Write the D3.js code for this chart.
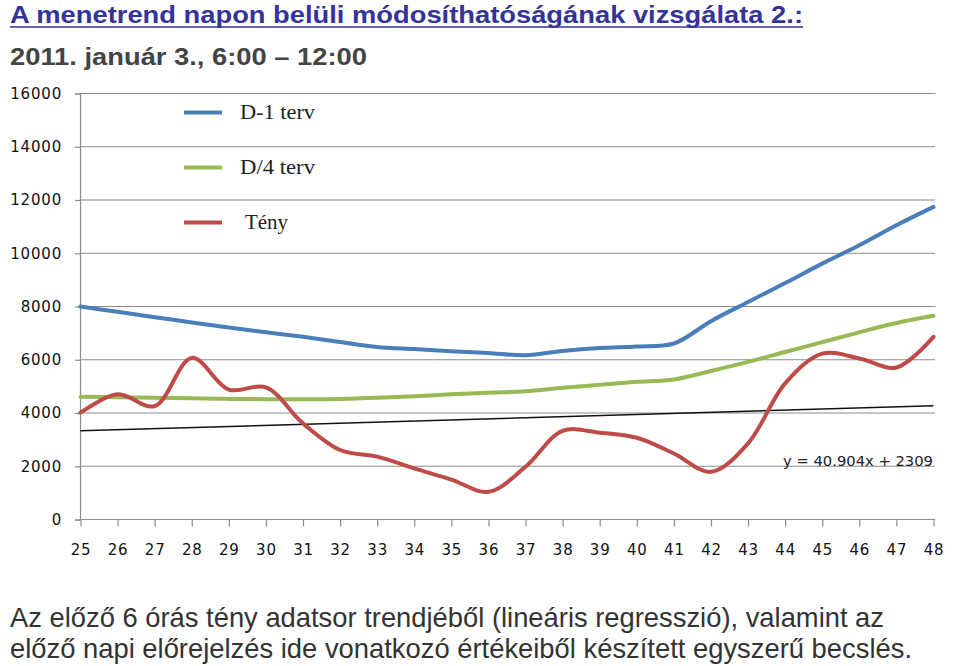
<!DOCTYPE html>
<html>
<head>
<meta charset="utf-8">
<script src="https://cdn.jsdelivr.net/npm/d3@7/dist/d3.min.js"></script>
<style>
  html, body { margin: 0; padding: 0; background: #fff; }
  svg { display: block; }
</style>
</head>
<body>
<div id="chart"></div>
<script>
// hours on the x axis
var hours = d3.range(25, 49)
var yTicks = [0, 2000, 4000, 6000, 8000, 10000, 12000, 14000, 16000]

// D-1 terv
var planD1 = [8000, 7800, 7600, 7400, 7210, 7030, 6860, 6670, 6480, 6400, 6320, 6250,
  6170, 6330, 6440, 6500, 6610, 7450, 8170, 8880, 9610, 10300, 11050, 11740]
// D/4 terv
var planD4 = [4610, 4590, 4570, 4550, 4530, 4520, 4520, 4530, 4570, 4630, 4700, 4760,
  4820, 4950, 5060, 5170, 5260, 5580, 5920, 6290, 6660, 7030, 7380, 7650]
// Tény
var actual = [4010, 4700, 4260, 6070, 4880, 4960, 3610, 2610, 2360, 1920, 1500, 1040,
  1980, 3330, 3260, 3070, 2480, 1790, 2860, 5110, 6230, 6050, 5710, 6860]
// linear trend, end points
var trendHours = [25, 48]
var trendValues = [3330, 4270]

var series = [
  { name: 'D-1 terv', values: planD1, color: '#4a7ebb' },
  { name: 'D/4 terv', values: planD4, color: '#98b954' },
  { name: 'Tény', values: actual, color: '#be4b48' }
]

var
  WIDTH = 960,
  HEIGHT = 666

var svg = d3.select('#chart').append('svg')
  .attr('width', WIDTH)
  .attr('height', HEIGHT)

// heading
svg.append('text')
  .attr('x', 10)
  .attr('y', 23)
  .attr('fill', '#333399')
  .attr('font-family', 'Liberation Sans, Arial, sans-serif')
  .attr('font-weight', 'bold')
  .attr('font-size', 23)
  .attr('textLength', 793)
  .attr('lengthAdjust', 'spacingAndGlyphs')
  .text('A menetrend napon belüli módosíthatóságának vizsgálata 2.:')

svg.append('line')
  .attr('x1', 10).attr('x2', 803)
  .attr('y1', 27).attr('y2', 27)
  .attr('stroke', '#333399')
  .attr('stroke-width', 1.6)

svg.append('text')
  .attr('x', 10)
  .attr('y', 65)
  .attr('fill', '#444')
  .attr('font-family', 'Liberation Sans, Arial, sans-serif')
  .attr('font-weight', 'bold')
  .attr('font-size', 23)
  .attr('textLength', 357)
  .attr('lengthAdjust', 'spacingAndGlyphs')
  .text('2011. január 3., 6:00 – 12:00')

// plot
var x = d3.scaleLinear().domain([25, 48]).range([80.5, 933.5])
var y = d3.scaleLinear().domain([0, 16000]).range([519.5, 93.5])

var grid = svg.append('g')
grid.selectAll('line')
  .data(yTicks.filter(function(d) { return d > 0 }))
  .enter().append('line')
  .attr('x1', 80).attr('x2', 935)
  .attr('y1', function(d) { return y(d) })
  .attr('y2', function(d) { return y(d) })
  .attr('stroke', '#8c8c8c')
  .attr('stroke-width', 1.2)

var yAxis = svg.append('g')
  .attr('transform', 'translate(80,0)')
  .call(d3.axisLeft(y).tickValues(yTicks).tickFormat(d3.format('d')).tickSize(5).tickPadding(13))
var xAxis = svg.append('g')
  .attr('transform', 'translate(0,' + y(0) + ')')
  .call(d3.axisBottom(x).tickValues(hours).tickSize(7).tickPadding(18).tickSizeOuter(0))

xAxis.select('.domain').attr('d', 'M80,0H935')

;[yAxis, xAxis].forEach(function(ax) {
  ax.select('.domain').attr('stroke', '#8c8c8c').attr('stroke-width', 1.2)
  ax.selectAll('.tick line').attr('stroke', '#8c8c8c').attr('stroke-width', 1.2)
  ax.selectAll('.tick text')
    .attr('fill', '#111')
    .attr('font-family', 'DejaVu Sans, Verdana, sans-serif')
    .attr('font-size', 15)
    .attr('letter-spacing', 0.8)
})

// trend line
svg.append('line')
  .attr('x1', x(trendHours[0])).attr('x2', x(trendHours[1]))
  .attr('y1', y(trendValues[0])).attr('y2', y(trendValues[1]))
  .attr('stroke', '#111')
  .attr('stroke-width', 1.5)

svg.append('text')
  .attr('x', 933)
  .attr('y', 466)
  .attr('text-anchor', 'end')
  .attr('fill', '#222')
  .attr('font-family', 'DejaVu Sans, Verdana, sans-serif')
  .attr('font-size', 14)
  .attr('textLength', 150)
  .attr('lengthAdjust', 'spacingAndGlyphs')
  .text('y = 40.904x + 2309')

// series
var line = d3.line()
  .x(function(d, i) { return x(hours[i]) })
  .y(function(d) { return y(d) })
  .curve(d3.curveCatmullRom.alpha(0.5))

svg.append('g').selectAll('path')
  .data(series)
  .enter().append('path')
  .attr('d', function(d) { return line(d.values) })
  .attr('fill', 'none')
  .attr('stroke', function(d) { return d.color })
  .attr('stroke-width', 4)
  .attr('stroke-linejoin', 'round')
  .attr('stroke-linecap', 'round')

// legend
var legend = svg.append('g').selectAll('g')
  .data(series)
  .enter().append('g')
  .attr('transform', function(d, i) { return 'translate(184,' + (112.5 + i * 55) + ')' })

legend.append('line')
  .attr('x1', 0).attr('x2', 38)
  .attr('stroke', function(d) { return d.color })
  .attr('stroke-width', 4)

legend.append('text')
  .attr('x', function(d, i) { return i === 2 ? 61 : 56 })
  .attr('y', 6)
  .attr('fill', '#222')
  .attr('font-family', 'Liberation Serif, Times New Roman, serif')
  .attr('font-size', 20)
  .attr('textLength', function(d, i) { return [75, 75, 43][i] })
  .attr('lengthAdjust', 'spacingAndGlyphs')
  .text(function(d) { return d.name })

// note
var note = [
  { text: 'Az előző 6 órás tény adatsor trendjéből (lineáris regresszió), valamint az', y: 627, len: 874 },
  { text: 'előző napi előrejelzés ide vonatkozó értékeiből készített egyszerű becslés.', y: 658, len: 902 }
]
svg.append('g').selectAll('text')
  .data(note)
  .enter().append('text')
  .attr('x', 10)
  .attr('y', function(d) { return d.y })
  .attr('fill', '#333')
  .attr('font-family', 'Liberation Sans Narrow, Liberation Sans, Arial, sans-serif')
  .attr('font-size', 28)
  .attr('textLength', function(d) { return d.len })
  .attr('lengthAdjust', 'spacingAndGlyphs')
  .text(function(d) { return d.text })
</script>
</body>
</html>
